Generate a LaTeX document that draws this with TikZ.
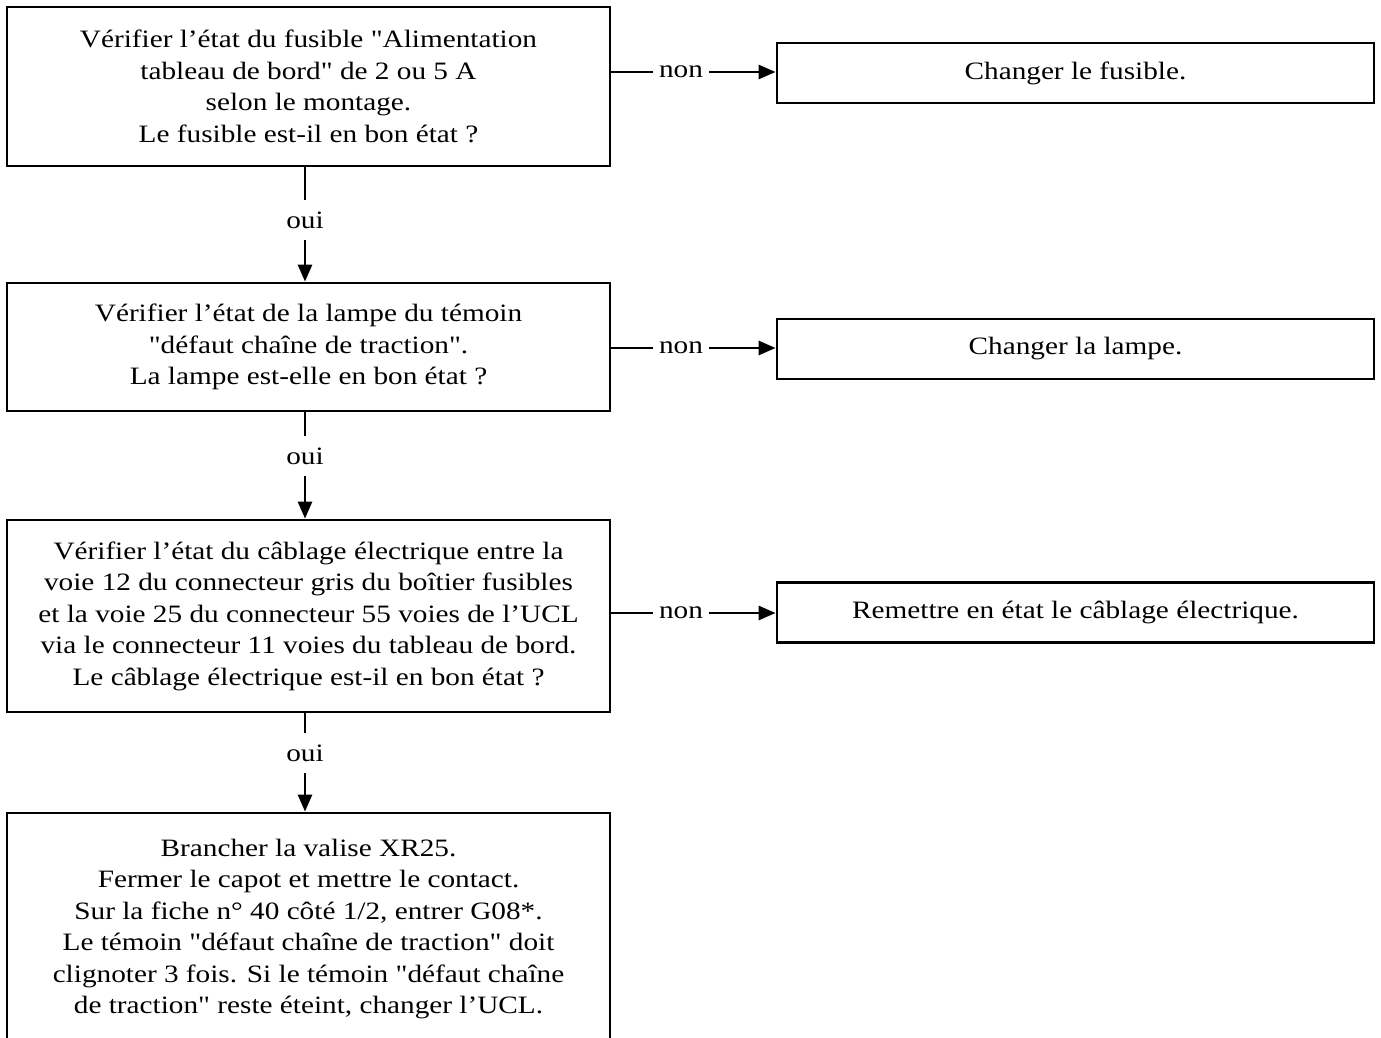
\documentclass[tikz,border=0pt]{standalone}
\usepackage{fontspec}
\newfontfamily\rfont{Liberation Serif}[FakeStretch=1.17]
\usetikzlibrary{arrows.meta}
\newcommand\boxfont{\rfont\fontsize{25}{31.5}\selectfont}
\begin{document}
\begin{tikzpicture}[x=1pt,y=-1pt,
  box/.style={draw, line width=2.8pt, inner sep=0pt, align=center, font=\boxfont, minimum width=603pt},
  rbox/.style={draw, line width=2.8pt, inner sep=0pt, align=center, font=\boxfont, minimum width=597pt, minimum height=60pt},
  lbl/.style={inner xsep=6pt, inner ysep=0pt, minimum height=40pt, font=\boxfont},
  conn/.style={line width=2.8pt},
  arr/.style={line width=2.8pt, -{Triangle[length=17pt,width=14pt]}}]
\useasboundingbox (0,0) rectangle (1381,1038);
\clip (0,0) rectangle (1381,1038);
\fill[white] (0,0) rectangle (1381,1038);

\node[box, minimum height=159pt] (b1) at (308.5,86.5) {Vérifier l’état du fusible "Alimentation\\tableau de bord" de 2 ou 5 A\\selon le montage.\\Le fusible est-il en bon état ?};
\node[rbox] (r1) at (1075.5,73) {Changer le fusible.};

\node[box, minimum height=128pt] (b2) at (308.5,347) {Vérifier l’état de la lampe du témoin\\"défaut chaîne de traction".\\La lampe est-elle en bon état ?};
\node[rbox] (r2) at (1075.5,349) {Changer la lampe.};

\node[box, minimum height=192pt] (b3) at (308.5,616) {Vérifier l’état du câblage électrique entre la\\voie 12 du connecteur gris du boîtier fusibles\\et la voie 25 du connecteur 55 voies de l’UCL\\via le connecteur 11 voies du tableau de bord.\\Le câblage électrique est-il en bon état ?};
\node[rbox] (r3) at (1075.5,612.5) {Remettre en état le câblage électrique.};

\node[box, minimum height=232pt] (b4) at (308.5,929) {Brancher la valise XR25.\\Fermer le capot et mettre le contact.\\Sur la fiche n° 40 côté 1/2, entrer G08*.\\Le témoin "défaut chaîne de traction" doit\\clignoter 3 fois. Si le témoin "défaut chaîne\\de traction" reste éteint, changer l’UCL.};

% non branches
\node[lbl] (n1) at (681,72) {non};
\node[lbl] (n2) at (681,348) {non};
\node[lbl] (n3) at (681,613) {non};
\draw[conn] (b1.east |- n1) -- (n1.west);
\draw[arr] (n1.east) -- (r1.west |- n1);
\draw[conn] (b2.east |- n2) -- (n2.west);
\draw[arr] (n2.east) -- (r2.west |- n2);
\draw[conn] (b3.east |- n3) -- (n3.west);
\draw[arr] (n3.east) -- (r3.west |- n3);

% oui branches
\node[lbl] (o1) at (305,220) {oui};
\node[lbl] (o2) at (305,456) {oui};
\node[lbl] (o3) at (305,753) {oui};
\draw[conn] (o1 |- b1.south) -- (o1.north);
\draw[arr] (o1.south) -- (o1 |- b2.north);
\draw[conn] (o2 |- b2.south) -- (o2.north);
\draw[arr] (o2.south) -- (o2 |- b3.north);
\draw[conn] (o3 |- b3.south) -- (o3.north);
\draw[arr] (o3.south) -- (o3 |- b4.north);
\end{tikzpicture}
\end{document}
